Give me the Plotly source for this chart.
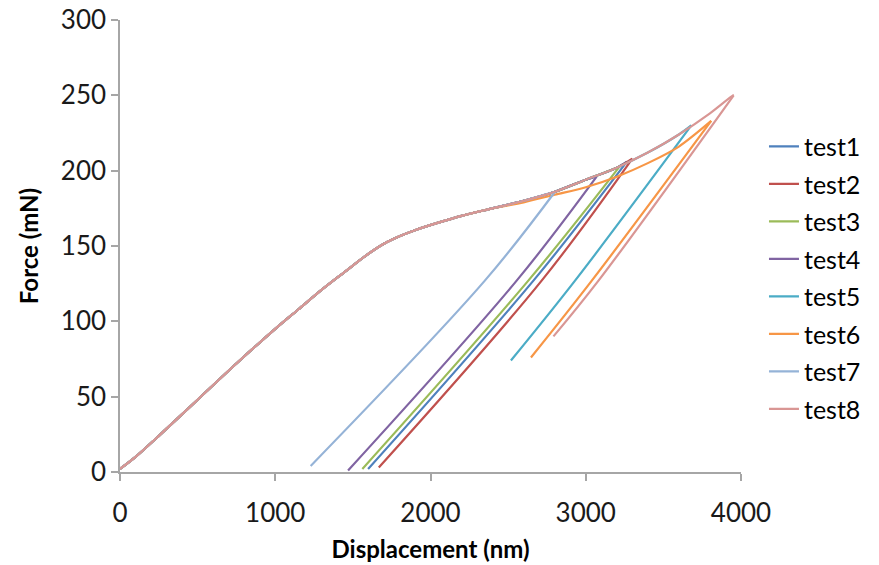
import plotly.graph_objects as go

# Common loading curve (displacement nm, force mN)
load_disp = [0, 100, 250, 500, 750, 1000, 1150, 1300, 1450, 1575, 1700, 1800, 1900, 2050, 2200, 2400, 2600, 2800, 3000, 3200, 3400, 3600, 3800, 3950]
load_force = [2, 10, 24, 48, 72, 95, 108, 121, 133, 143, 151.5, 156.5, 160.5, 165.5, 170, 175, 180, 186, 194, 202, 212, 224, 238, 250]

# Test 6 deviates below the common loading curve beyond ~2600 nm
load6_disp = [2600, 2800, 3000, 3200, 3400, 3600]
load6_force = [179, 184, 189, 196, 205, 216]

names = ["test1", "test2", "test3", "test4", "test5", "test6", "test7", "test8"]
peak_disp = [3265, 3300, 3220, 3070, 3680, 3808, 2802, 3953]
peak_force = [206, 208, 203, 196, 230, 233, 186, 250]

# Unloading curves, from peak down to final point
unload_disp = [
    [3265, 2663, 1598],
    [3300, 2716, 1667],
    [3220, 2630, 1561],
    [3070, 2555, 1469],
    [3680, 2931, 2518],
    [3808, 3039, 2647],
    [2802, 2350, 1228],
    [3953, 3082, 2792],
]
unload_force = [
    [206, 127, 2],
    [208, 127, 3],
    [203, 127, 2],
    [196, 127, 1],
    [230, 127, 74],
    [233, 127, 76],
    [186, 127, 4],
    [250, 127, 90],
]

colors = ["#4F81BD", "#C0504D", "#9BBB59", "#8064A2", "#4BACC6", "#F79646", "#95B3D7", "#D99694"]

FONT = "Lato"

fig = go.Figure()
for i, name in enumerate(names):
    xs, ys = [], []
    for d, f in zip(load_disp, load_force):
        if d >= peak_disp[i]:
            break
        if name == "test6" and d >= load6_disp[0]:
            break
        xs.append(d)
        ys.append(f)
    if name == "test6":
        for d, f in zip(load6_disp, load6_force):
            if d < peak_disp[i]:
                xs.append(d)
                ys.append(f)
    xs.append(peak_disp[i])
    ys.append(peak_force[i])
    fig.add_trace(go.Scatter(
        x=xs, y=ys, mode="lines", name=name, legendgroup=name,
        line=dict(color=colors[i], width=2.2, shape="spline", smoothing=0.8),
    ))
    fig.add_trace(go.Scatter(
        x=unload_disp[i], y=unload_force[i], mode="lines", name=name,
        legendgroup=name, showlegend=False,
        line=dict(color=colors[i], width=2.2, shape="spline", smoothing=1),
    ))

axis_common = dict(
    showgrid=False, zeroline=False, showline=True,
    linecolor="#A6A6A6", linewidth=1.5,
    ticks="outside", ticklen=7, tickcolor="#A6A6A6", tickwidth=1.5,
    tickfont=dict(family=FONT, size=26, color="#1a1a1a"),
)

fig.update_layout(
    width=879, height=565,
    margin=dict(l=120, r=138, t=20, b=93, autoexpand=False),
    paper_bgcolor="white", plot_bgcolor="white",
    xaxis=dict(range=[0, 4000], tickvals=[0, 1000, 2000, 3000, 4000],
               title=dict(text="<b>Displacement (nm)</b>", font=dict(family=FONT, size=24, color="black"), standoff=14),
               ticklabelstandoff=10, **axis_common),
    yaxis=dict(range=[0, 300], tickvals=[0, 50, 100, 150, 200, 250, 300],
               title=dict(text="<b>Force (mN)</b>", font=dict(family=FONT, size=24, color="black"), standoff=15),
               **axis_common),
    legend=dict(
        x=1.037, xanchor="left", y=0.43, yanchor="middle",
        font=dict(family=FONT, size=25, color="black"),
        tracegroupgap=2, itemwidth=30, bgcolor="rgba(0,0,0,0)",
    ),
    showlegend=True,
)

fig.write_html("out.html")
